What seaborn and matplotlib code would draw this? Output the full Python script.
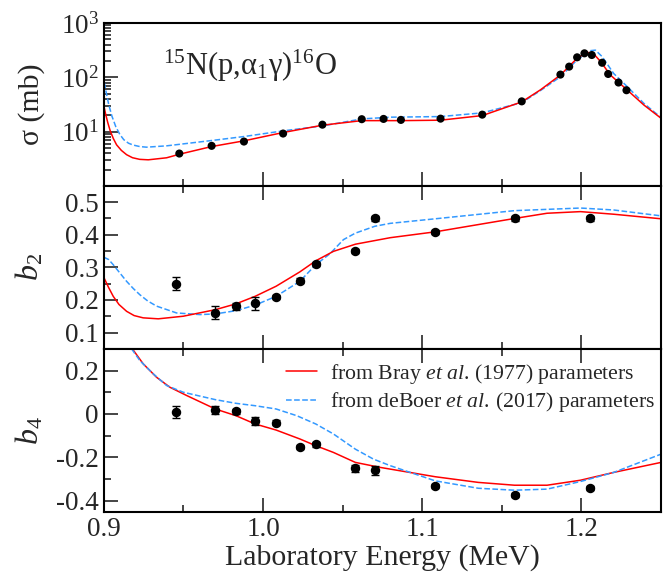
import matplotlib
matplotlib.use("Agg")
import matplotlib.pyplot as plt
import matplotlib.ticker as mticker
import seaborn as sns

# cross section data points
sig_E = [0.9474, 0.9677, 0.988, 1.0126, 1.0373, 1.062, 1.0757, 1.0866, 1.1115, 1.1377,
         1.1625, 1.1868, 1.1923, 1.1973, 1.2019, 1.2065, 1.213, 1.2168, 1.2233, 1.2283]
sig_val = [3.94, 5.46, 6.55, 9.2, 13.4, 16.9, 17.1, 16.4, 17.3, 20.5,
           36.0, 112, 157, 233, 276, 257, 185, 115, 80, 57.7]

# cross section curves
sig_bray_E = [0.9, 0.9012, 0.9025, 0.904, 0.906, 0.908, 0.911, 0.9143, 0.918, 0.9225, 0.9279,
              0.9394, 0.9478, 0.9677, 0.988, 1.0126, 1.0373, 1.062, 1.0866, 1.1115, 1.1377,
              1.1625, 1.1742, 1.1868, 1.1973, 1.2036, 1.2077, 1.212, 1.2182, 1.2287,
              1.2392, 1.25]
sig_bray = [29.7, 20.5, 14.5, 10.3, 7.4, 5.7, 4.5, 3.75, 3.3, 3.08, 3.02,
            3.29, 3.85, 5.3, 6.75, 9.6, 13.1, 15.9, 15.9, 16.2, 19.7,
            35.2, 58.5, 110, 224, 288, 270, 195, 110, 58.5,
            30.9, 17.6]
sig_boer_E = [0.9003, 0.9015, 0.903, 0.905, 0.9075, 0.910, 0.9125, 0.9155, 0.9184, 0.9225,
              0.9268, 0.9394, 0.9677, 0.988, 1.0126, 1.0373, 1.062, 1.0799, 1.1115, 1.1377,
              1.1625, 1.1742, 1.1868, 1.1973, 1.2057, 1.2088, 1.213, 1.2203, 1.2287,
              1.2392, 1.25]
sig_boer = [80, 52, 32, 19.5, 12.3, 8.9, 7.1, 6.1, 5.65, 5.3,
            5.16, 5.46, 6.84, 8.1, 10.3, 12.7, 17.1, 18.4, 18.9, 22.1,
            34.1, 56.8, 102, 209, 309, 316, 240, 117, 67.6,
            33.1, 18.1]

# b2 data
b2_E = [0.9451, 0.970, 0.983, 0.995, 1.0082, 1.0231, 1.0331, 1.058, 1.0702, 1.1082, 1.158, 1.2052]
b2_val = [0.249, 0.160, 0.180, 0.190, 0.209, 0.259, 0.310, 0.350, 0.450, 0.409, 0.450, 0.450]
b2_err = [0.02, 0.02, 0.01, 0.02, 0.007, 0.007, 0.007, 0.007, 0.007, 0.007, 0.007, 0.007]

b2_bray_E = [0.9, 0.903, 0.9059, 0.9095, 0.9143, 0.919, 0.9247, 0.9342, 0.9499, 0.970, 0.983,
             0.995, 1.0082, 1.0231, 1.0331, 1.0442, 1.058, 1.0799, 1.1082, 1.158, 1.1784,
             1.1994, 1.2203, 1.25]
b2_bray = [0.269, 0.238, 0.211, 0.186, 0.165, 0.152, 0.145, 0.142, 0.150, 0.170, 0.188,
           0.211, 0.242, 0.286, 0.320, 0.349, 0.371, 0.391, 0.409, 0.450, 0.466,
           0.471, 0.463, 0.449]
b2_boer_E = [0.9, 0.903, 0.9059, 0.910, 0.9143, 0.9185, 0.9226, 0.9275, 0.9331, 0.9457, 0.9604,
             0.970, 0.983, 0.995, 1.0082, 1.0231, 1.0331, 1.0421, 1.0505, 1.058, 1.0702,
             1.0799, 1.1082, 1.158, 1.1994, 1.2203, 1.25]
b2_boer = [0.331, 0.324, 0.308, 0.283, 0.257, 0.235, 0.216, 0.197, 0.181, 0.160, 0.155,
           0.157, 0.167, 0.184, 0.211, 0.257, 0.308, 0.342, 0.385, 0.405, 0.426,
           0.435, 0.449, 0.474, 0.482, 0.476, 0.458]

# b4 data
b4_E = [0.9453, 0.970, 0.983, 0.995, 1.0082, 1.0231, 1.0331, 1.058, 1.0702, 1.1082, 1.158, 1.2052]
b4_val = [0.01, 0.02, 0.012, -0.034, -0.04, -0.151, -0.14, -0.251, -0.26, -0.332, -0.372, -0.342]
b4_err = [0.028, 0.018, 0.01, 0.018, 0.01, 0.008, 0.01, 0.018, 0.02, 0.01, 0.01, 0.01]

b4_bray_E = [0.9174, 0.9247, 0.9331, 0.9415, 0.952, 0.970, 0.983, 0.995, 1.0082, 1.0231,
             1.0331, 1.0442, 1.058, 1.0736, 1.1082, 1.1352, 1.158, 1.1784, 1.1994, 1.2203, 1.25]
b4_bray = [0.305, 0.231, 0.169, 0.123, 0.085, 0.023, -0.008, -0.046, -0.074, -0.115,
           -0.146, -0.177, -0.223, -0.246, -0.289, -0.315, -0.328, -0.328, -0.305, -0.269, -0.223]
b4_boer_E = [0.9174, 0.9226, 0.931, 0.9394, 0.9499, 0.970, 0.983, 0.995, 1.0082, 1.0212,
             1.0331, 1.0442, 1.058, 1.0694, 1.0799, 1.1082, 1.1352, 1.158, 1.1784, 1.1994,
             1.2203, 1.25]
b4_boer = [0.30, 0.246, 0.185, 0.131, 0.10, 0.066, 0.049, 0.038, 0.023, -0.008,
           -0.046, -0.092, -0.162, -0.208, -0.238, -0.308, -0.342, -0.351, -0.346, -0.311,
           -0.269, -0.185]

sns.set_theme(style="ticks")
plt.rcParams['font.family'] = ['Liberation Serif', 'DejaVu Serif']
plt.rcParams['mathtext.fontset'] = 'custom'
plt.rcParams['mathtext.rm'] = 'Liberation Serif'
plt.rcParams['mathtext.it'] = 'Liberation Serif:italic'
plt.rcParams['mathtext.bf'] = 'Liberation Serif:bold'
plt.rcParams['axes.linewidth'] = 1.5

red = '#ff0000'
blue = '#3399ff'

fig, axes = plt.subplots(3, 1, figsize=(6.7, 5.74), dpi=100, sharex=True)
fig.subplots_adjust(left=0.155, right=0.9866, top=0.960, bottom=0.1085, hspace=0)
ax1, ax2, ax3 = axes

# top: cross section
sns.lineplot(x=sig_boer_E, y=sig_boer, color=blue, lw=1.1, linestyle='--', ax=ax1)
sns.lineplot(x=sig_bray_E, y=sig_bray, color=red, lw=1.1, ax=ax1)
sns.scatterplot(x=sig_E, y=sig_val, color='black', s=34, edgecolor='none', zorder=5, ax=ax1)
ax1.set_yscale('log')
ax1.set_ylim(1, 1000)
ax1.set_yticks([10, 100, 1000])
ax1.set_ylabel('σ (mb)', fontsize=21.5)
ax1.text(0.106, 0.68, r'$^{15}$N(p,$\mathrm{\alpha}_1\mathrm{\gamma}$)$^{16}$O',
         transform=ax1.transAxes, fontsize=22, va='baseline')

# middle: b2
sns.lineplot(x=b2_boer_E, y=b2_boer, color=blue, lw=1.1, linestyle='--', ax=ax2)
sns.lineplot(x=b2_bray_E, y=b2_bray, color=red, lw=1.1, ax=ax2)
ax2.errorbar(b2_E, b2_val, yerr=b2_err, fmt='o', color='black', ms=5.8,
             capsize=3, elinewidth=1, capthick=1, zorder=5)
ax2.set_ylim(0.05, 0.55)
ax2.yaxis.set_major_locator(mticker.FixedLocator([0.1, 0.2, 0.3, 0.4, 0.5]))
ax2.yaxis.set_minor_locator(mticker.MultipleLocator(0.05))
ax2.set_ylabel('$b_2$', fontsize=23)

# bottom: b4
sns.lineplot(x=b4_bray_E, y=b4_bray, color=red, lw=1.1,
             label=r'from Bray $\mathit{et\ al.}\,$(1977) parameters', ax=ax3)
sns.lineplot(x=b4_boer_E, y=b4_boer, color=blue, lw=1.1, linestyle='--',
             label=r'from deBoer $\mathit{et\ al.}\,$(2017) parameters', ax=ax3)
ax3.errorbar(b4_E, b4_val, yerr=b4_err, fmt='o', color='black', ms=5.8,
             capsize=3, elinewidth=1, capthick=1, zorder=5)
ax3.set_ylim(-0.45, 0.3)
ax3.set_yticks([-0.4, -0.2, 0, 0.2])
ax3.set_yticklabels(['-0.4', '-0.2', '0', '0.2'])
ax3.yaxis.set_minor_locator(mticker.MultipleLocator(0.1))
ax3.set_ylabel('$b_4$', fontsize=23)
ax3.legend(loc='upper right', frameon=False, fontsize=15.7, handlelength=1.4,
           handletextpad=0.6, labelspacing=0.2, borderaxespad=0.2,
           bbox_to_anchor=(1.012, 1.0))

ax3.set_xlim(0.9, 1.25)
ax3.set_xticks([0.9, 1.0, 1.1, 1.2])
ax3.set_xticklabels(['0.9', '1.0', '1.1', '1.2'])
ax3.xaxis.set_minor_locator(mticker.MultipleLocator(0.05))
ax3.set_xlabel('Laboratory Energy (MeV)', fontsize=21.5, labelpad=2)

for i, ax in enumerate(axes):
    ax.tick_params(which='both', direction='in', labelsize=19.5, width=1.2,
                   top=(i > 0), bottom=True, right=False, left=True)
    ax.tick_params(which='major', length=10)
    ax.tick_params(which='minor', length=5)
    ax.yaxis.set_label_coords(-0.105, 0.5)
    for s in ax.spines.values():
        s.set_linewidth(1.5)
        s.set_color('black')

fig.savefig('out.png', dpi=100)
